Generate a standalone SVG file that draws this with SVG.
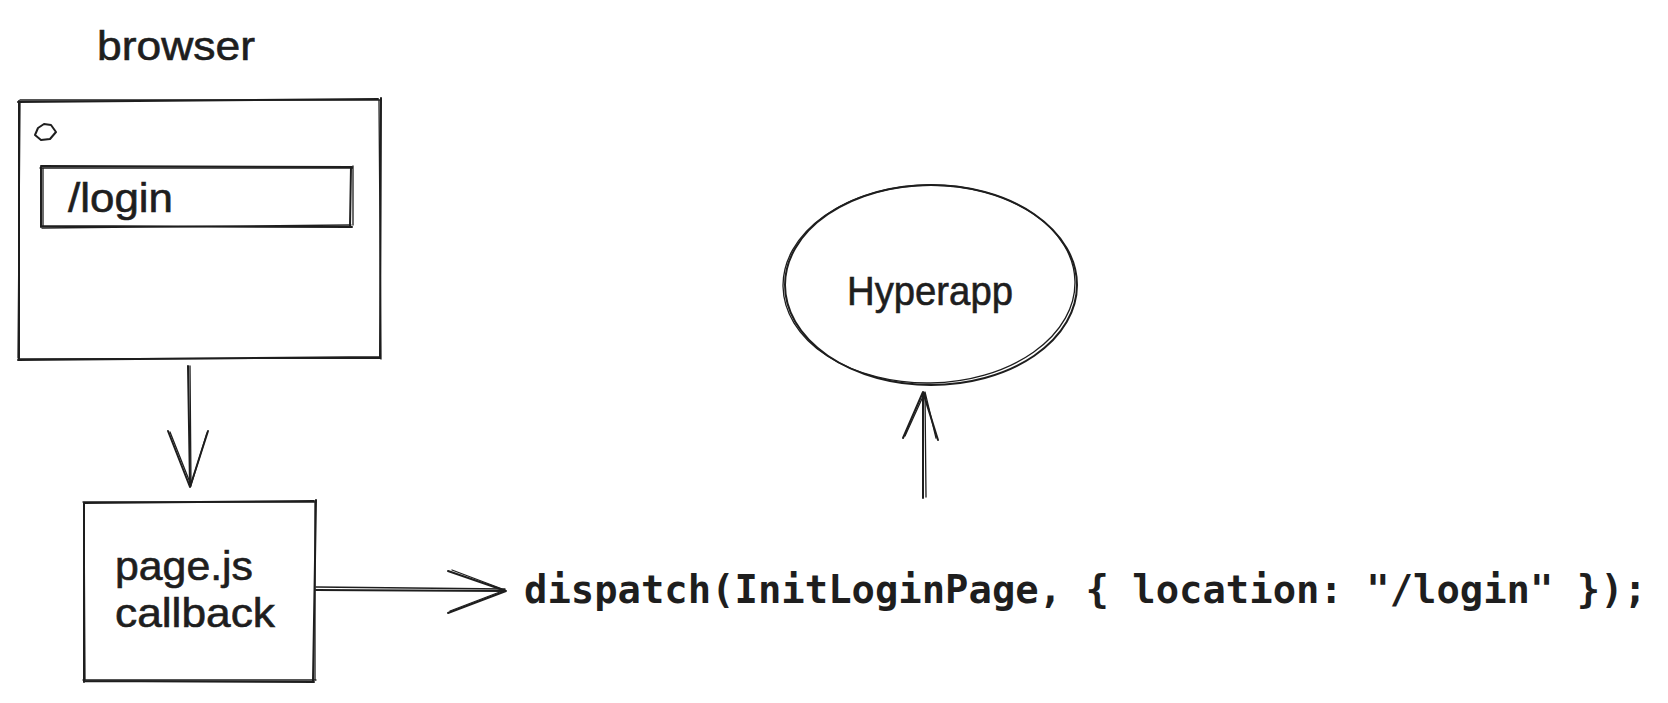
<svg xmlns="http://www.w3.org/2000/svg" width="1668" height="703" viewBox="0 0 1668 703">
<style>
.s{fill:none;stroke:#1e1e1e;stroke-width:2;stroke-linecap:round;stroke-linejoin:round}
.t{stroke-width:1.3}
.h{font-family:"Liberation Sans","DejaVu Sans",sans-serif;fill:#1e1e1e;font-size:40px;stroke:#1e1e1e;stroke-width:0.6}
.m{font-family:"DejaVu Sans Mono","Liberation Mono",monospace;fill:#1e1e1e;font-size:39px;font-weight:bold}
</style>
<rect width="1668" height="703" fill="#ffffff"/>
<g id="browser-label">
<text class="h" x="97" y="60" textLength="158" lengthAdjust="spacingAndGlyphs">browser</text>
</g>
<g id="browser">
<path class="s" d="M18 102 L378 99 M381 98 L380 358 M380 357 L18 360 M19 360 L19 101"/>
<path class="s t" d="M20 100 L380 100 M379 101 L381 359 M381 358 L20 359 M18 358 L20 102"/>
<path class="s" d="M38 128 L44 124 L51 125 L56 132 L50 139 L41 140 L35 135 Z"/>
</g>
<g id="address-bar">
<path class="s" d="M41 166 L352 167 M351 167 L350 226 M352 227 L41 226 M41 227 L41 167"/>
<path class="s t" d="M40 168 L353 168 M353 166 L353 225 M351 225 L42 228 M43 226 L43 168"/>
<text class="h" x="68" y="212" textLength="105" lengthAdjust="spacingAndGlyphs">/login</text>
</g>
<g id="pagejs">
<path class="s" d="M84 503 L314 501 M316 500 L313 681 M314 682 L84 681 M84 682 L84 503"/>
<path class="s t" d="M83 502 L316 502 M315 503 L315 680 M316 680 L83 680 M85 680 L84 504"/>
<text class="h" x="115" y="580" textLength="138" lengthAdjust="spacingAndGlyphs">page.js</text>
<text class="h" x="115" y="627" textLength="160" lengthAdjust="spacingAndGlyphs">callback</text>
</g>
<g id="hyperapp">
<ellipse class="s" cx="931" cy="285" rx="146" ry="100"/>
<ellipse class="s t" cx="929" cy="284" rx="146" ry="99" transform="rotate(-1 929 284)"/>
<text class="h" x="847" y="305" textLength="166" lengthAdjust="spacingAndGlyphs">Hyperapp</text>
</g>
<g id="dispatch">
<text class="m" x="524" y="603" textLength="1123" lengthAdjust="spacingAndGlyphs">dispatch(InitLoginPage, { location: "/login" });</text>
</g>
<g id="connectors">
<path class="s" d="M188 366 L190 487 M168 431 L190 487 L208 431"/>
<path class="s t" d="M190 366 L191 486 M170 432 L191 485 L207 433"/>
<path class="s" d="M316 590 L506 591 M448 571 L506 591 L448 613"/>
<path class="s t" d="M316 587 L505 589 M452 570 L505 590 L450 611"/>
<path class="s" d="M923 498 L923 392 M903 438 L923 392 L938 440"/>
<path class="s t" d="M926 497 L925 393 M905 436 L925 392 L936 438"/>
</g>
</svg>
